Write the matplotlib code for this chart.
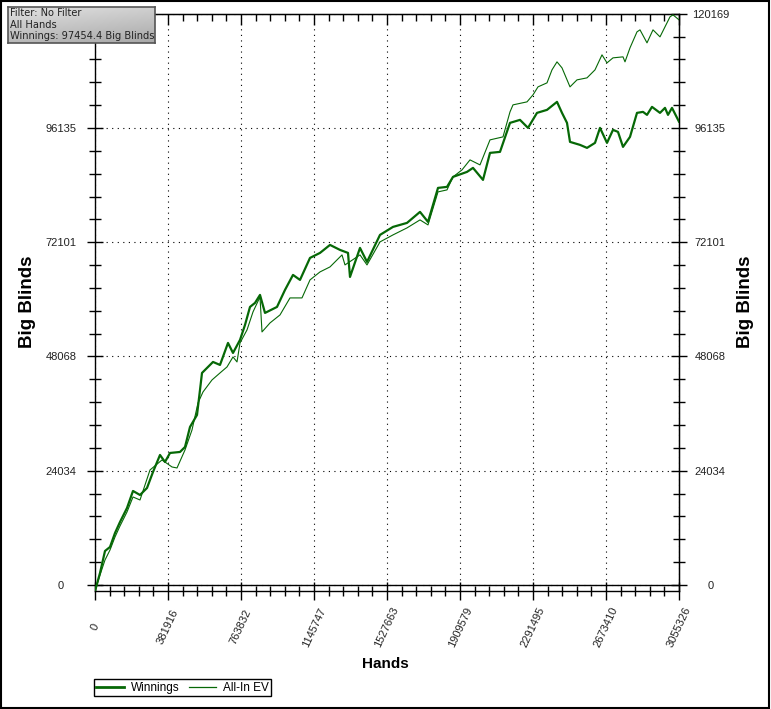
import numpy as np
import matplotlib.pyplot as plt
from matplotlib.patches import Rectangle
from matplotlib.lines import Line2D
from matplotlib.ticker import FixedLocator

# values: hands played -> big blinds won
win_hands = [0, 26160, 52320, 78480, 104630, 130790, 167410, 198800, 235430, 272050,
             303440, 340060, 366220, 392380, 444690, 470850, 497010, 533630, 549330, 559790,
             585950, 617340, 653960, 695820, 721970, 758600, 784760, 810920, 837070, 863230,
             889390, 952170, 994020, 1035880, 1072500, 1124820, 1177130, 1229450, 1281770, 1323620,
             1334090, 1386400, 1423020, 1491030, 1559040, 1632290, 1700300, 1742150, 1794470, 1841550,
             1872940, 1946190, 1977580, 2029890, 2066510, 2118830, 2171150, 2223470, 2265320, 2312410,
             2364720, 2417040, 2443200, 2469360, 2485050, 2537370, 2574000, 2615850, 2642010, 2678630,
             2710020, 2736180, 2762340, 2798960, 2835580, 2866970, 2887900, 2914060, 2955910, 2982070,
             2997770, 3018690, 3055326]
win_bb = [-1262, 2525, 7154, 7995, 10941, 13255, 16201, 19778, 18936, 20409,
          23775, 27352, 25879, 27773, 27983, 29035, 33243, 35768, 41028, 44605,
          45657, 46919, 46288, 50917, 48813, 51548, 54704, 58491, 59333, 61016,
          57229, 58491, 62068, 65224, 64172, 68801, 69853, 71536, 70484, 69853,
          64803, 70905, 67959, 73640, 75323, 76165, 78479, 76375, 83528, 83739,
          85843, 86895, 87737, 85212, 90893, 91103, 97205, 97836, 96153, 99309,
          99940, 101623, 99309, 97205, 93207, 92576, 91945, 92997, 96153, 92997,
          95732, 95311, 92155, 94259, 99309, 99519, 98888, 100571, 99309, 100361,
          98888, 100361, 97454.4]

ev_hands = [0, 26160, 52320, 78480, 104630, 130790, 167410, 198800, 235430, 287740,
            350520, 402840, 429000, 470850, 507470, 538860, 565020, 612110, 653960, 690580,
            721970, 742900, 758600, 795220, 826610, 863230, 873690, 915550, 967860, 1020180,
            1082960, 1124820, 1177130, 1229450, 1292230, 1307920, 1386400, 1423020, 1491030, 1559040,
            1632290, 1700300, 1742150, 1794470, 1841550, 1872940, 1920020, 1961880, 2014190, 2066510,
            2134530, 2171150, 2186850, 2260090, 2291480, 2317640, 2364720, 2390880, 2417040, 2443200,
            2485050, 2521670, 2574000, 2615850, 2652470, 2678630, 2710020, 2762340, 2772800, 2798960,
            2835580, 2851280, 2887900, 2919290, 2955910, 2982070, 3008230, 3023920, 3055326]
ev_bb = [-1262, 2104, 5260, 7364, 10099, 12414, 15359, 18515, 17884, 24196,
         26300, 24827, 24617, 28404, 32612, 38293, 40607, 43132, 44605, 45867,
         47971, 46919, 50917, 53652, 57439, 60595, 53231, 55125, 56808, 60385,
         60385, 64172, 65855, 66907, 69432, 67328, 69432, 67328, 72167, 73640,
         75113, 76796, 75744, 82686, 83107, 85843, 87316, 89420, 88368, 93628,
         94259, 99519, 100992, 101623, 103096, 104779, 105621, 108356, 110039, 108777,
         104779, 106252, 106673, 108356, 111512, 109829, 110881, 111092, 110039, 112985,
         116351, 116772, 114037, 116772, 115299, 117403, 119507, 119928, 118876]

x_ticks = [0, 381916, 763832, 1145747, 1527663, 1909579, 2291495, 2673410, 3055326]
y_ticks = [0, 24034, 48068, 72101, 96135, 120169]
info_lines = ["Filter: No Filter", "All Hands", "Winnings: 97454.4 Big Blinds"]

GREEN = "#066806"
W, H = 771, 709

fig = plt.figure(figsize=(W / 100, H / 100), dpi=100)
ax = fig.add_axes([95 / W, 1 - 591 / H, (679 - 95) / W, (591 - 13.7) / H])

ax.plot(win_hands, win_bb, color=GREEN, lw=1.6, zorder=3)
ax.plot(ev_hands, ev_bb, color=GREEN, lw=0.8, zorder=3)
ax.axhline(0, color="black", lw=1.0, zorder=2)

ax.set_xlim(0, x_ticks[-1])
ax.set_ylim(-1262, y_ticks[-1])

# minor ticks: 5 steps between each labelled tick
x_minor = np.linspace(0, x_ticks[-1], 41)
y_minor = np.linspace(0, y_ticks[-1], 26)

# the top-left label sits under the info box in the original, so leave it blank
left_labels = [str(v) for v in y_ticks[:-1]] + [""]
ax.set_xticks(x_ticks, labels=[str(v) for v in x_ticks])
ax.set_yticks(y_ticks, labels=left_labels)
ax.xaxis.set_minor_locator(FixedLocator(x_minor))
ax.yaxis.set_minor_locator(FixedLocator(y_minor))
ax.grid(True, which="major", color="black", linestyle=(0, (1, 4)), lw=0.8)

ax.tick_params(axis="x", which="major", direction="inout", length=13, width=1,
               labelsize=8, pad=19.5, labelcolor="#222222")
ax.tick_params(axis="x", which="minor", direction="inout", length=7, width=1)
ax.tick_params(axis="y", which="major", direction="inout", length=12, width=1,
               labelsize=8, pad=18.5, labelcolor="#222222")
ax.tick_params(axis="y", which="minor", direction="inout", length=9, width=1)
plt.setp(ax.get_xticklabels(), rotation=65, ha="center", va="center", family="Liberation Sans")
plt.setp(ax.get_yticklabels(), ha="center", family="Liberation Sans")

for s in ax.spines.values():
    s.set_linewidth(1.0)

# right axis with its own labels
ry = ax.secondary_yaxis("right")
ry.set_yticks(y_ticks, labels=[str(v) for v in y_ticks])
ry.yaxis.set_minor_locator(FixedLocator(y_minor))
ry.tick_params(which="major", direction="inout", length=12, width=1, labelsize=8,
               pad=16.5, labelcolor="#222222")
ry.tick_params(which="minor", direction="inout", length=9, width=1)
plt.setp(ry.get_yticklabels(), ha="center", family="Liberation Sans")

# top axis: ticks only
tx = ax.secondary_xaxis("top")
tx.set_xticks(x_ticks)
tx.xaxis.set_minor_locator(FixedLocator(x_minor))
tx.tick_params(which="major", direction="in", length=8, width=1, labeltop=False)
tx.tick_params(which="minor", direction="in", length=5, width=1)

fig.text(28 / W, 1 - 302 / H, "Big Blinds", rotation=90, fontsize=13.5, weight="bold",
         ha="center", va="center", family="Liberation Sans")
fig.text(746 / W, 1 - 302 / H, "Big Blinds", rotation=90, fontsize=13.5, weight="bold",
         ha="center", va="center", family="Liberation Sans")
fig.text(385 / W, 1 - 664 / H, "Hands", fontsize=11, weight="bold",
         ha="center", va="center", family="Liberation Sans")

handles = [Line2D([], [], color=GREEN, lw=2.0), Line2D([], [], color=GREEN, lw=0.9)]
leg = fig.legend(handles, ["Winnings", "All-In EV"], loc="lower left",
                 bbox_to_anchor=(94 / W, 1 - 696 / H), ncol=2, fontsize=8.5,
                 frameon=True, fancybox=False, edgecolor="black", framealpha=1,
                 handlelength=2.3, handletextpad=0.6, columnspacing=0.8,
                 borderpad=0.2, borderaxespad=0)
leg.get_frame().set_linewidth(1.0)
for t in leg.get_texts():
    t.set_family("Liberation Sans")

# info box in the top-left corner
bx = fig.add_axes([8 / W, 1 - 43 / H, 147 / W, 36 / H])
grad = np.linspace(0, 1, 64)
shade = 0.88 - 0.22 * (grad[:, None] * 0.7 + grad[None, :] * 0.3)
bx.imshow(shade, cmap="gray", vmin=0, vmax=1, aspect="auto", extent=(0, 1, 0, 1), origin="upper")
bx.set_xticks([])
bx.set_yticks([])
for s in bx.spines.values():
    s.set_color("#555555")
    s.set_linewidth(1.2)
for i, line in enumerate(info_lines):
    bx.text(0.012, 0.83 - i * 0.32, line, transform=bx.transAxes, fontsize=7.1,
            va="center", ha="left", color="#222222")

fig.add_artist(Rectangle((0.001, 0.002), 0.996, 0.996, transform=fig.transFigure,
                         fill=False, edgecolor="black", lw=1.5))

fig.savefig("out.png", dpi=100)
